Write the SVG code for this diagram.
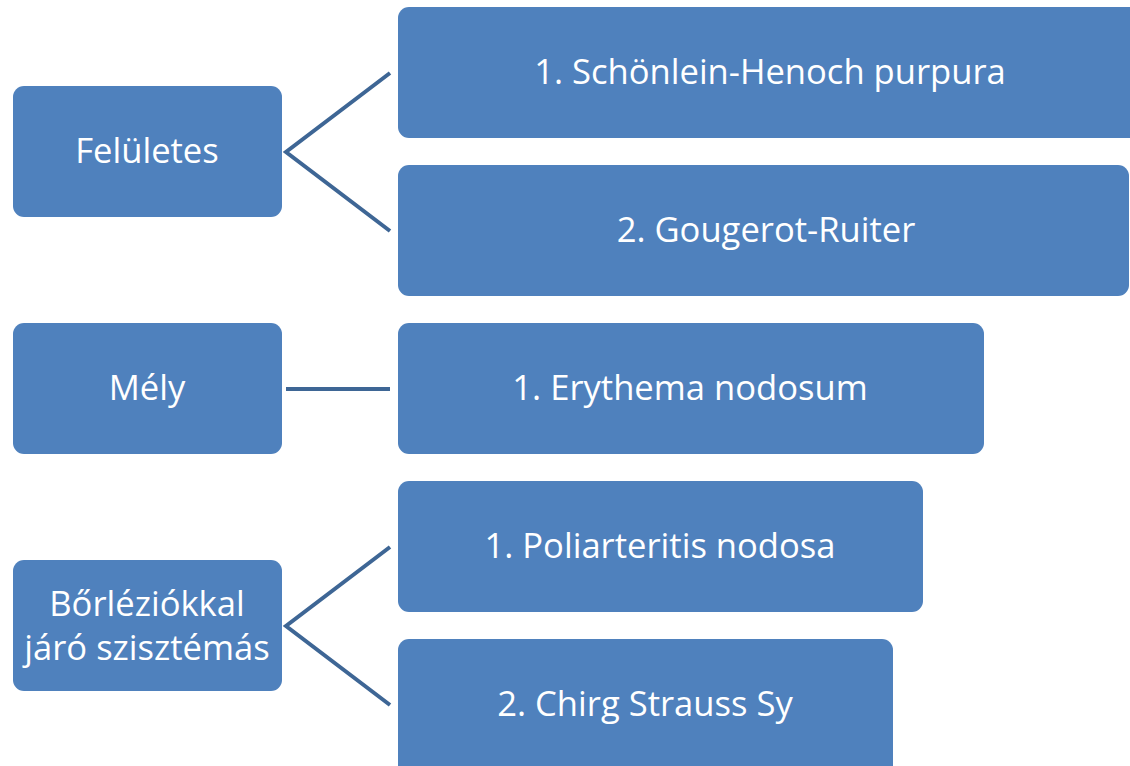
<svg xmlns="http://www.w3.org/2000/svg" width="1130" height="766" viewBox="0 0 1130 766">
<style>
.box{fill:#4F81BD;}
.t{fill:#FFFFFF;font-family:"Open Sans","Liberation Sans",sans-serif;font-size:34.6px;text-anchor:middle;}
.c{stroke:#3E6695;stroke-width:4;fill:none;}
</style>
<rect width="1130" height="766" fill="#FFFFFF"/>
<g id="connectors">
<polyline class="c" points="390,73 286,152 390,231"/>
<line class="c" x1="286" y1="389" x2="390" y2="389"/>
<polyline class="c" points="390,547 286,626 390,705"/>
</g>
<g id="n-feluletes"><rect class="box" x="13" y="86" width="269" height="131" rx="11"/><text class="t" x="147" y="163">Felületes</text></g>
<g id="n-schonlein"><rect class="box" x="398" y="7" width="744" height="131" rx="11"/><text class="t" x="770" y="84">1. Schönlein-Henoch purpura</text></g>
<g id="n-gougerot"><rect class="box" x="398" y="165" width="731" height="131" rx="11"/><text class="t" x="766" y="242">2. Gougerot-Ruiter</text></g>
<g id="n-mely"><rect class="box" x="13" y="323" width="269" height="131" rx="11"/><text class="t" x="147" y="400">Mély</text></g>
<g id="n-erythema"><rect class="box" x="398" y="323" width="586" height="131" rx="11"/><text class="t" x="690" y="400">1. Erythema nodosum</text></g>
<g id="n-borleziokkal"><rect class="box" x="13" y="560" width="269" height="131" rx="11"/><text class="t" x="147" y="616">Bőrléziókkal</text><text class="t" x="147" y="660">járó szisztémás</text></g>
<g id="n-poliarteritis"><rect class="box" x="398" y="481" width="525" height="131" rx="11"/><text class="t" x="660" y="558">1. Poliarteritis nodosa</text></g>
<g id="n-chirg"><rect class="box" x="398" y="639" width="495" height="140" rx="11"/><text class="t" x="645" y="716">2. Chirg Strauss Sy</text></g>
</svg>
